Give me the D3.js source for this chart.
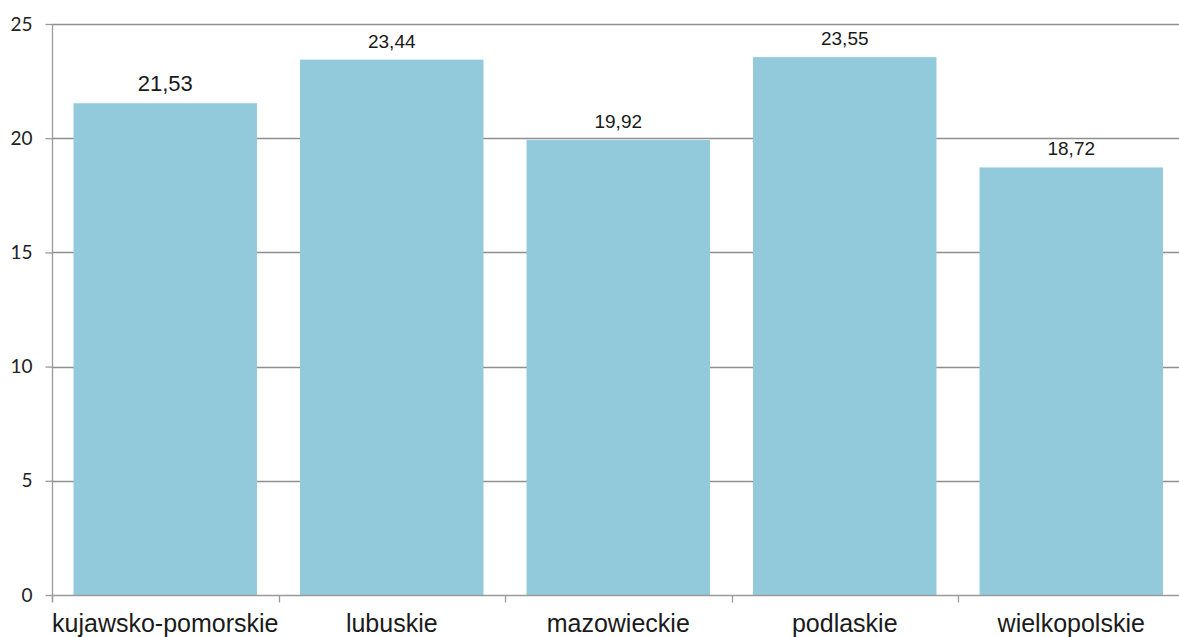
<!DOCTYPE html>
<html lang="pl">
<head>
  <meta charset="UTF-8">
  <title>Województwa</title>
  <script src="https://d3js.org/d3.v7.min.js"></script>
  <style>
    body { margin: 0; background: #fff; }
    svg { display: block; }
  </style>
</head>
<body>
  <svg width="1179" height="637"></svg>
  <script>
    // data
    const regions = ["kujawsko-pomorskie", "lubuskie", "mazowieckie", "podlaskie", "wielkopolskie"];
    const values = [21.53, 23.44, 19.92, 23.55, 18.72];
    const yTicks = [0, 5, 10, 15, 20, 25];

    const svg = d3.select("svg");
    const W = 1179, H = 637;
    const plotLeft = 52, plotRight = 1184.5, plotTop = 24, plotBottom = 595;

    const x = d3.scaleBand().domain(regions).range([plotLeft, plotRight]).padding(0);
    const y = d3.scaleLinear().domain([0, 25]).range([plotBottom, plotTop]);

    const barColor = "#93cadb";
    const gridColor = "#8e8e8e";
    const axisColor = "#9a9a9a";

    // gridlines
    svg.append("g")
      .selectAll("line")
      .data(yTicks.filter(d => d > 0))
      .join("line")
      .attr("x1", plotLeft)
      .attr("x2", W)
      .attr("y1", d => Math.round(y(d)) + 0.5)
      .attr("y2", d => Math.round(y(d)) + 0.5)
      .attr("stroke", gridColor)
      .attr("stroke-width", 1.3);

    // bars
    const bw = x.bandwidth() * 0.81;
    const off = (x.bandwidth() - bw) / 2;
    svg.append("g")
      .selectAll("rect")
      .data(values)
      .join("rect")
      .attr("x", (d, i) => x(regions[i]) + off)
      .attr("y", d => y(d))
      .attr("width", bw)
      .attr("height", d => plotBottom - y(d))
      .attr("fill", barColor);

    // value labels
    svg.append("g")
      .selectAll("text")
      .data(values)
      .join("text")
      .attr("x", (d, i) => x(regions[i]) + x.bandwidth() / 2)
      .attr("y", d => y(d) - 12)
      .attr("text-anchor", "middle")
      .attr("font-family", "'Liberation Sans', Arial, sans-serif")
      .attr("font-size", (d, i) => i === 0 ? 22 : 19)
      .attr("fill", "#1a1a1a")
      .text(d => d.toFixed(2).replace(".", ","));

    // y axis
    const yAxis = svg.append("g")
      .attr("transform", `translate(${plotLeft + 0.5},0)`)
      .call(d3.axisLeft(y).tickValues(yTicks).tickSize(7).tickPadding(13));
    yAxis.select(".domain").attr("stroke", axisColor).attr("stroke-width", 1.3)
      .attr("d", `M0,${plotTop}V${plotBottom + 7}`);
    yAxis.selectAll(".tick line").attr("stroke", axisColor).attr("stroke-width", 1.3);
    yAxis.selectAll(".tick text")
      .attr("font-family", "Lato, 'Open Sans', sans-serif")
      .attr("font-size", 19)
      .attr("fill", "#222");

    // x axis
    const xAxis = svg.append("g")
      .attr("transform", `translate(0,${plotBottom + 0.5})`);
    xAxis.append("line")
      .attr("x1", plotLeft).attr("x2", W)
      .attr("stroke", axisColor).attr("stroke-width", 1.3);
    xAxis.selectAll(".sep")
      .data(regions)
      .join("line")
      .attr("class", "sep")
      .attr("x1", d => Math.round(x(d)) + 0.5)
      .attr("x2", d => Math.round(x(d)) + 0.5)
      .attr("y1", 0).attr("y2", 7)
      .attr("stroke", axisColor).attr("stroke-width", 1.3);
    xAxis.selectAll(".lbl")
      .data(regions)
      .join("text")
      .attr("class", "lbl")
      .attr("x", d => x(d) + x.bandwidth() / 2)
      .attr("y", 36)
      .attr("text-anchor", "middle")
      .attr("font-family", "'Liberation Sans', Arial, sans-serif")
      .attr("font-size", 25)
      .attr("fill", "#1a1a1a")
      .text(d => d);
  </script>
</body>
</html>
